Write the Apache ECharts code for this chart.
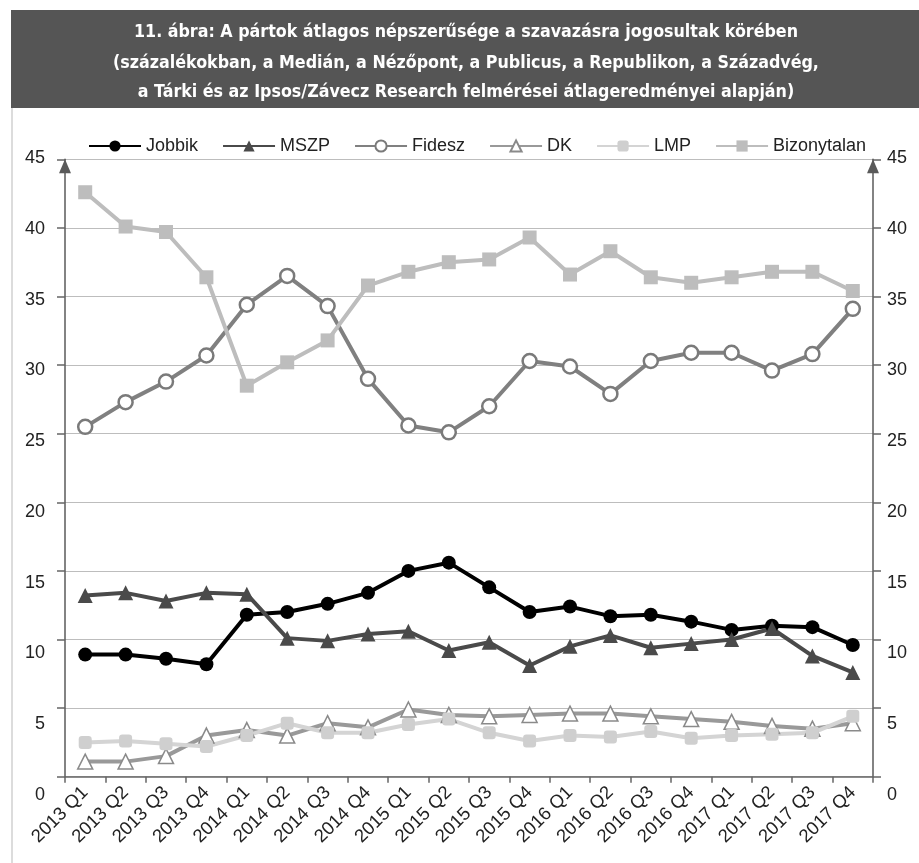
<!DOCTYPE html>
<html>
<head>
<meta charset="utf-8">
<script src="https://cdn.jsdelivr.net/npm/echarts@6/dist/echarts.min.js"></script>
<style>
html,body{margin:0;padding:0;background:#fff;}
#main{width:919px;height:863px;}
</style>
</head>
<body>
<div id="main"></div>
<script>
const titleLines = [
  '11. ábra: A pártok átlagos népszerűsége a szavazásra jogosultak körében',
  '(százalékokban, a Medián, a Nézőpont, a Publicus, a Republikon, a Századvég,',
  'a Tárki és az Ipsos/Závecz Research felmérései átlageredményei alapján)'
];
const categories = ['2013 Q1','2013 Q2','2013 Q3','2013 Q4','2014 Q1','2014 Q2','2014 Q3','2014 Q4',
  '2015 Q1','2015 Q2','2015 Q3','2015 Q4','2016 Q1','2016 Q2','2016 Q3','2016 Q4',
  '2017 Q1','2017 Q2','2017 Q3','2017 Q4'];
const jobbik = [8.9,8.9,8.6,8.2,11.8,12.0,12.6,13.4,15.0,15.6,13.8,12.0,12.4,11.7,11.8,11.3,10.7,11.0,10.9,9.6];
const mszp = [13.2,13.4,12.8,13.4,13.3,10.1,9.9,10.4,10.6,9.2,9.8,8.1,9.5,10.3,9.4,9.7,10.0,10.8,8.8,7.6];
const fidesz = [25.5,27.3,28.8,30.7,34.4,36.5,34.3,29.0,25.6,25.1,27.0,30.3,29.9,27.9,30.3,30.9,30.9,29.6,30.8,34.1];
const dk = [1.1,1.1,1.5,3.0,3.4,3.0,3.9,3.6,4.9,4.5,4.4,4.5,4.6,4.6,4.4,4.2,4.0,3.7,3.5,3.9];
const lmp = [2.5,2.6,2.4,2.2,3.0,3.9,3.2,3.2,3.8,4.2,3.2,2.6,3.0,2.9,3.3,2.8,3.0,3.1,3.2,4.4];
const bizonytalan = [42.6,40.1,39.7,36.4,28.5,30.2,31.8,35.8,36.8,37.5,37.7,39.3,36.6,38.3,36.4,36.0,36.4,36.8,36.8,35.4];
const seriesNames = ['Jobbik','MSZP','Fidesz','DK','LMP','Bizonytalan'];
const yTicks = {min: 0, max: 45, interval: 5};

const FONT = '"Liberation Sans", Arial, sans-serif';
const TITLE_FONT = 'bold 17.7px "DejaVu Sans Condensed", sans-serif';
const chart = echarts.init(document.getElementById('main'), null, {renderer: 'canvas'});

const plotAxisLine = {
  show: true,
  lineStyle: {color: '#5a5a5a', width: 1.5},
  symbol: ['none', 'triangle'],
  symbolSize: [12, 14],
  symbolOffset: [0, -7]
};

function mkSeries(name, data, lineColor, symbol, size, itemStyle) {
  return {
    name: name, type: 'line', data: data,
    xAxisIndex: 0, yAxisIndex: 0,
    symbol: symbol, symbolSize: size, showAllSymbol: true,
    lineStyle: {color: lineColor, width: 4},
    itemStyle: itemStyle,
    emphasis: {disabled: true}
  };
}

const option = {
  animation: false,
  backgroundColor: '#fff',
  textStyle: {fontFamily: FONT},
  graphic: [
    {type: 'rect', shape: {x: 11, y: 10, width: 908, height: 98}, style: {fill: '#555555'}, silent: true},
    {type: 'line', shape: {x1: 12, y1: 108, x2: 12, y2: 863}, style: {stroke: '#d0d0d0', lineWidth: 1.5}, silent: true},
    {type: 'text', x: 466, y: 32, style: {text: titleLines[0], fill: '#fff', font: TITLE_FONT, textAlign: 'center', textVerticalAlign: 'middle'}, silent: true},
    {type: 'text', x: 466, y: 63, style: {text: titleLines[1], fill: '#fff', font: TITLE_FONT, textAlign: 'center', textVerticalAlign: 'middle'}, silent: true},
    {type: 'text', x: 466, y: 92, style: {text: titleLines[2], fill: '#fff', font: TITLE_FONT, textAlign: 'center', textVerticalAlign: 'middle'}, silent: true}
  ],
  legend: {
    data: seriesNames,
    left: 83, top: 132,
    itemWidth: 52, itemHeight: 14, itemGap: 24,
    textStyle: {fontSize: 18, color: '#222', fontFamily: FONT},
    selectedMode: false
  },
  grid: [
    {left: 65, right: 46, top: 159.3, bottom: 86.3},
    {left: 65, right: 46, top: 158, bottom: 68, show: false}
  ],
  xAxis: [
    {
      type: 'category', gridIndex: 0, data: categories, boundaryGap: true,
      axisLine: {show: true, lineStyle: {color: '#666', width: 1.5}},
      axisTick: {show: true, length: 6, lineStyle: {color: '#666', width: 1.5}},
      axisLabel: {rotate: 45, fontSize: 18.5, color: '#222', margin: 13, interval: 0, fontFamily: FONT},
      splitLine: {show: false}
    },
    {type: 'value', gridIndex: 1, show: false, min: 0, max: 1}
  ],
  yAxis: [
    {
      type: 'value', gridIndex: 0, position: 'left', min: yTicks.min, max: yTicks.max, interval: yTicks.interval,
      axisLine: plotAxisLine,
      axisTick: {show: true, length: 8, lineStyle: {color: '#666', width: 1.5}},
      axisLabel: {show: false},
      splitLine: {show: true, lineStyle: {color: '#bdbdbd', width: 1}}
    },
    {
      type: 'value', gridIndex: 0, position: 'right', min: yTicks.min, max: yTicks.max, interval: yTicks.interval,
      axisLine: plotAxisLine,
      axisTick: {show: true, length: 8, lineStyle: {color: '#666', width: 1.5}},
      axisLabel: {show: false},
      splitLine: {show: false}
    },
    {
      type: 'value', gridIndex: 1, position: 'left', min: yTicks.min, max: yTicks.max, interval: yTicks.interval,
      axisLine: {show: false}, axisTick: {show: false}, splitLine: {show: false},
      axisLabel: {fontSize: 18, color: '#222', margin: 20, fontFamily: FONT}
    },
    {
      type: 'value', gridIndex: 1, position: 'right', min: yTicks.min, max: yTicks.max, interval: yTicks.interval,
      axisLine: {show: false}, axisTick: {show: false}, splitLine: {show: false},
      axisLabel: {fontSize: 18, color: '#222', margin: 14, fontFamily: FONT}
    }
  ],
  series: [
    mkSeries('Jobbik', jobbik, '#000000', 'circle', 14, {color: '#000000'}),
    mkSeries('MSZP', mszp, '#4a4a4a', 'triangle', 15, {color: '#4a4a4a'}),
    mkSeries('Fidesz', fidesz, '#808080', 'circle', 14, {color: '#ffffff', borderColor: '#7a7a7a', borderWidth: 2.5}),
    mkSeries('DK', dk, '#999999', 'triangle', 15, {color: '#ffffff', borderColor: '#8a8a8a', borderWidth: 1.5}),
    mkSeries('LMP', lmp, '#d4d4d4', 'roundRect', 13, {color: '#cfcfcf'}),
    mkSeries('Bizonytalan', bizonytalan, '#bdbdbd', 'rect', 14, {color: '#bdbdbd'})
  ]
};
chart.setOption(option);
</script>
</body>
</html>
